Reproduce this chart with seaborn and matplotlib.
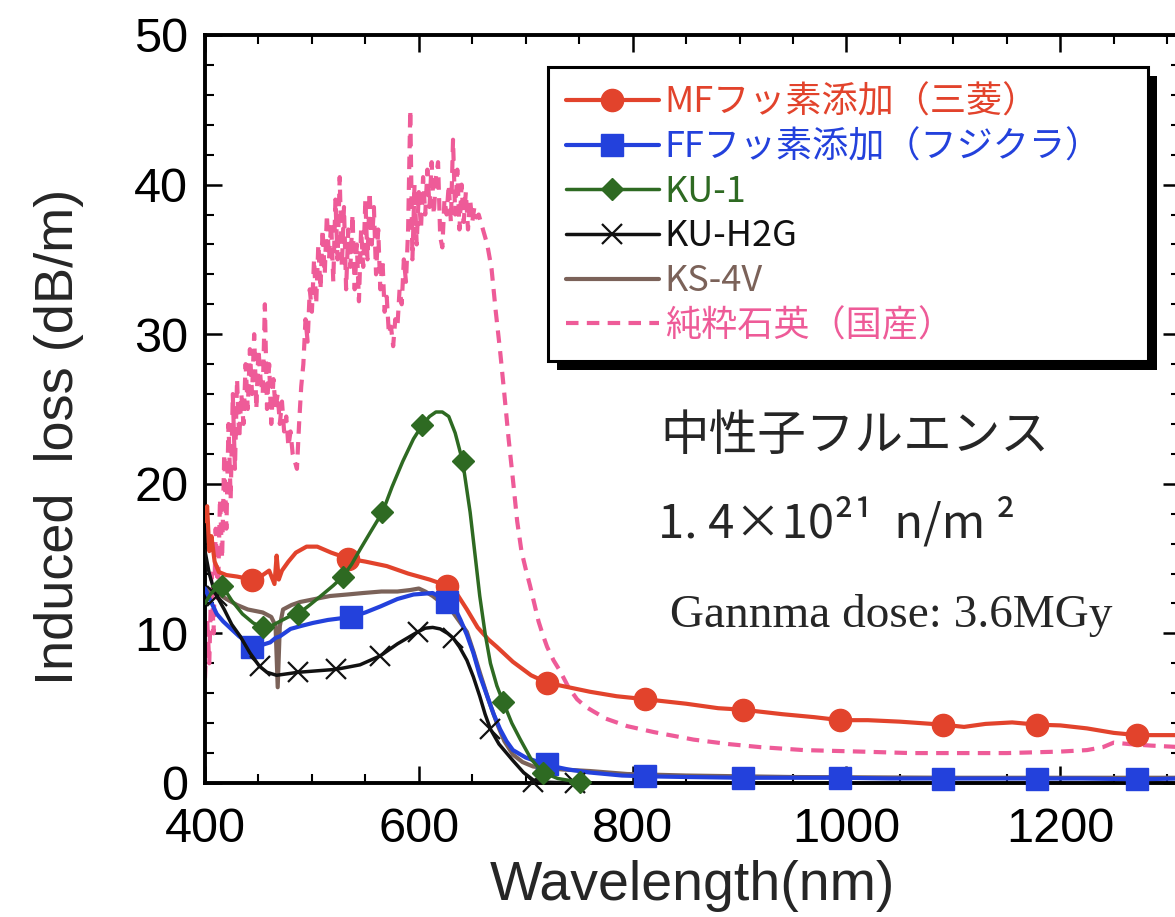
import numpy as np
import pandas as pd
import matplotlib
matplotlib.use('Agg')
import matplotlib.pyplot as plt
from matplotlib.lines import Line2D
from matplotlib.patches import Rectangle
from matplotlib.ticker import MultipleLocator
import seaborn as sns

# ---- data (wavelength nm, induced loss dB/m) ----
mf_x = [400, 402, 404, 406, 409, 413, 420, 430, 444, 452, 460, 465, 467, 469, 472, 478, 485, 495,
        505, 518, 534, 550, 570, 590, 610, 626, 636, 645, 655, 665, 673, 688, 705, 720, 740, 760,
        785, 812, 850, 880, 903, 940, 970, 994, 1020, 1050, 1090, 1110, 1130, 1155, 1178, 1200,
        1225, 1250, 1272, 1312]
mf_y = [17.5, 18.5, 15.5, 16.5, 14.8, 14.1, 13.9, 13.8, 13.6, 13.8, 14.2, 13.3, 15.2, 13.6, 14.2,
        14.8, 15.4, 15.8, 15.8, 15.4, 15.0, 14.8, 14.5, 14.0, 13.6, 13.2, 12.6, 11.6, 10.4, 9.6,
        9.1, 8.1, 7.2, 6.7, 6.4, 6.1, 5.8, 5.6, 5.3, 5.0, 4.9, 4.6, 4.4, 4.2, 4.2, 4.1, 3.9, 3.75,
        3.95, 4.05, 3.9, 3.85, 3.65, 3.35, 3.2, 3.2]
mf_mx = [444, 534, 626, 720, 812, 903, 994, 1090, 1178, 1272]
mf_my = [13.6, 15.0, 13.2, 6.7, 5.6, 4.9, 4.2, 3.9, 3.9, 3.2]

ff_x = [400, 405, 411, 417, 423, 432, 444, 452, 461, 466, 470, 480, 490, 501, 515, 537, 550, 564,
        580, 595, 613, 626, 633, 639, 645, 651, 657, 664, 670, 676, 682, 688, 700, 720, 740, 760,
        790, 812, 850, 903, 950, 994, 1040, 1090, 1130, 1178, 1220, 1272, 1312]
ff_y = [13.0, 12.2, 11.3, 10.8, 10.4, 9.8, 9.2, 9.2, 9.4, 9.7, 9.8, 10.3, 10.5, 10.7, 10.9, 11.1,
        11.4, 11.8, 12.3, 12.6, 12.7, 12.2, 11.8, 10.9, 9.9, 8.7, 7.2, 5.8, 4.6, 3.6, 2.8, 2.2,
        1.7, 1.2, 0.9, 0.7, 0.5, 0.45, 0.4, 0.35, 0.35, 0.35, 0.3, 0.3, 0.3, 0.3, 0.3, 0.25, 0.3]
ff_mx = [444, 537, 626, 720, 812, 903, 994, 1090, 1178, 1272]
ff_my = [9.1, 11.1, 12.1, 1.3, 0.45, 0.35, 0.35, 0.3, 0.3, 0.25]

ku1_x = [400, 405, 410, 416, 425, 435, 445, 454, 462, 470, 478, 487, 498, 510, 520, 529, 537, 545,
         555, 566, 575, 585, 595, 603, 610, 616, 622, 628, 634, 641, 648, 653, 657, 662, 667, 673,
         679, 687, 695, 705, 716, 730, 751, 760]
ku1_y = [12.0, 12.6, 13.0, 13.2, 12.2, 11.3, 10.7, 10.4, 10.5, 10.8, 11.1, 11.3, 11.9, 12.6, 13.2,
         13.8, 14.6, 15.6, 16.8, 18.1, 19.8, 21.5, 23.0, 23.9, 24.5, 24.8, 24.8, 24.5, 23.4, 21.5,
         18.1, 15.0, 12.5, 10.0, 8.0, 6.5, 5.4, 4.0, 2.9, 1.6, 0.7, 0.3, 0.05, 0.0]
ku1_mx = [416, 454, 487, 529, 566, 603, 641, 679, 716, 751]
ku1_my = [13.2, 10.4, 11.3, 13.8, 18.1, 23.9, 21.5, 5.4, 0.7, 0.05]

h2g_x = [400, 404, 408, 411, 418, 425, 433, 442, 451, 458, 467, 477, 487, 505, 523, 545, 564, 580,
         599, 606, 613, 620, 627, 632, 638, 645, 651, 657, 662, 667, 675, 688, 698, 707, 720, 746,
         760]
h2g_y = [15.5, 14.0, 13.0, 12.5, 11.6, 10.6, 9.8, 8.7, 7.8, 7.4, 7.2, 7.3, 7.4, 7.5, 7.6, 7.9, 8.5,
         9.3, 10.1, 10.35, 10.4, 10.3, 10.0, 9.7, 9.1, 8.2, 7.1, 5.8, 4.6, 3.6, 2.6, 1.5, 0.7, 0.2,
         0.05, 0.0, 0.0]
h2g_mx = [411, 451, 487, 523, 564, 599, 632, 667, 707, 746]
h2g_my = [12.5, 7.8, 7.4, 7.6, 8.5, 10.1, 9.7, 3.6, 0.1, 0.0]

ks4v_x = [400, 405, 411, 420, 430, 440, 454, 462, 466, 468, 470, 473, 481, 489, 503, 517, 533, 548,
          565, 580, 592, 600, 606, 613, 622, 632, 640, 645, 651, 657, 665, 673, 680, 688, 697, 707,
          720, 735, 760, 795, 850, 950, 1100, 1312]
ks4v_y = [13.0, 12.8, 12.7, 12.3, 11.9, 11.6, 11.4, 11.1, 10.5, 6.4, 10.5, 11.6, 11.9, 12.1, 12.3,
          12.5, 12.6, 12.7, 12.8, 12.8, 12.9, 13.0, 12.8, 12.5, 12.0, 11.4, 10.6, 10.1, 8.8, 7.4,
          5.6, 4.0, 2.8, 1.9, 1.4, 1.1, 1.0, 0.9, 0.8, 0.6, 0.5, 0.4, 0.35, 0.35]

silica_x = list(range(400, 662, 2)) + [664, 668, 672, 676, 680, 684, 688, 692, 696, 700, 704, 708,
                                       712, 716, 720, 726, 732, 740, 748, 756, 763, 775, 795, 820,
                                       857, 890, 919, 960, 1013, 1060, 1100, 1150, 1200, 1225, 1240,
                                       1250, 1265, 1285, 1312]
silica_y = [7, 11, 8, 14, 10, 17, 12, 19, 15, 22, 17, 24, 19, 26, 21, 27, 23, 26, 24, 28,
            25, 29, 26, 30, 25, 29, 27, 26, 32, 25, 28, 24, 27, 25, 26, 24, 25.5, 23.5, 24.5, 22.5,
            23.5, 22, 21.5, 21, 24, 26.5, 28, 31, 29.5, 33, 31.5, 35, 32, 36, 33, 37, 34, 38, 35, 37.5,
            33.5, 39, 35, 40.5, 34.5, 38.5, 33, 37, 34.5, 38, 33, 36, 32.2, 37, 34.5, 39, 35, 39.5, 36, 38.5,
            34, 37, 33, 35, 31.5, 32.5, 30, 30.5, 29.2, 31, 30.5, 33, 32, 35, 33.5, 37, 45, 35, 40, 36,
            39.5, 37, 40.5, 38, 41, 38.5, 41.5, 38, 40.5, 41.5, 36.5, 35.8, 39, 38, 40, 37.5,
            43, 38, 41, 37, 40, 37.5, 39.5, 37, 39, 37.5, 38.5, 37.8, 38, 37.5, 37,
            36, 34.4, 31.5, 28.9, 26, 23, 20.3, 17.5, 15.5, 14.3, 13.2, 12, 10.8, 9.9, 9.1, 8.2, 7.5,
            6.4, 5.6, 5.1, 4.8, 4.3, 3.8, 3.4, 2.9, 2.6, 2.4, 2.2, 2.1, 2.0, 2.0, 2.0, 2.1, 2.2, 2.4,
            2.7, 2.6, 2.5, 2.4]

labels = ['MFフッ素添加（三菱）', 'FFフッ素添加（フジクラ）', 'KU-1', 'KU-H2G', 'KS-4V', '純粋石英（国産）']
colors = ['#e2432c', '#2341dc', '#2e6a22', '#111111', '#7b6259', '#ee5b98']

sns.set_theme(style='ticks')
plt.rcParams['font.family'] = ['Liberation Sans', 'Noto Sans CJK JP']

fig = plt.figure(figsize=(11.75, 9.17), dpi=100)
ax = fig.add_axes([205 / 1175, 134 / 917, 975 / 1175, 748 / 917])

# lines
sns.lineplot(x=silica_x, y=silica_y, ax=ax, color=colors[5], lw=3, linestyle=(0, (3, 2)),
             sort=False, estimator=None, zorder=2)
sns.lineplot(x=mf_x, y=mf_y, ax=ax, color=colors[0], lw=3, sort=False, estimator=None, zorder=3)
sns.lineplot(x=ks4v_x, y=ks4v_y, ax=ax, color=colors[4], lw=3, sort=False, estimator=None, zorder=3.5)
sns.lineplot(x=ff_x, y=ff_y, ax=ax, color=colors[1], lw=3, sort=False, estimator=None, zorder=4)
sns.lineplot(x=h2g_x, y=h2g_y, ax=ax, color=colors[3], lw=2.5, sort=False, estimator=None, zorder=4.2)
sns.lineplot(x=ku1_x, y=ku1_y, ax=ax, color=colors[2], lw=2.5, sort=False, estimator=None, zorder=4.5)

# markers
ax.plot(mf_mx, mf_my, 'o', color=colors[0], ms=16, zorder=3.1, clip_on=False)
ax.plot(ff_mx, ff_my, 's', color=colors[1], ms=16, zorder=4.1, clip_on=False)
ax.plot(h2g_mx, h2g_my, 'x', color=colors[3], ms=14, mew=1.6, zorder=4.3, clip_on=False)
ax.plot(ku1_mx, ku1_my, 'D', color=colors[2], ms=11, zorder=4.6, clip_on=False)

ax.set_xlim(400, 1312)
ax.set_ylim(0, 50)
ax.xaxis.set_major_locator(MultipleLocator(200))
ax.xaxis.set_minor_locator(MultipleLocator(50))
ax.yaxis.set_major_locator(MultipleLocator(10))
ax.yaxis.set_minor_locator(MultipleLocator(2))
ax.tick_params(which='both', direction='in', top=True, right=True, colors='black')
ax.tick_params(which='major', length=12, width=1.8, labelsize=35)
ax.tick_params(axis='x', which='major', pad=17)
ax.tick_params(axis='y', which='major', pad=12)
ax.tick_params(which='minor', length=6.5, width=1.5)
for s in ax.spines.values():
    s.set_linewidth(2.8)
    s.set_color('black')

ax.set_xlabel('Wavelength(nm)', fontsize=40)
ax.set_ylabel('Induced  loss (dB/m)', fontsize=39)
ax.xaxis.set_label_coords(0.5, -0.103)
ax.yaxis.set_label_coords(-0.124, 0.4625)

# legend
handles = [
    Line2D([], [], color=colors[0], lw=3, marker='o', ms=16),
    Line2D([], [], color=colors[1], lw=3, marker='s', ms=16),
    Line2D([], [], color=colors[2], lw=2.5, marker='D', ms=11),
    Line2D([], [], color=colors[3], lw=2.5, marker='x', ms=14, mew=1.6),
    Line2D([], [], color=colors[4], lw=3),
    Line2D([], [], color=colors[5], lw=3, linestyle=(0, (3, 2))),
]
leg = ax.legend(handles, labels, loc='upper left', bbox_to_anchor=(0.352, 0.957, 0.615, 0),
                mode='expand', borderaxespad=0,
                prop={'family': ['Noto Sans CJK JP'], 'size': 26},
                frameon=True, fancybox=False, edgecolor='black', framealpha=1,
                handlelength=2.6, handletextpad=0.15, labelspacing=0.24, borderpad=0.48)
leg.get_frame().set_linewidth(2.2)
leg.set_zorder(10)
for t, c in zip(leg.get_texts(), colors):
    t.set_color(c)

fig.canvas.draw()
bb = leg.get_window_extent(fig.canvas.get_renderer())
inv = ax.transAxes.inverted()
(x0, y0), (x1, y1) = inv.transform([[bb.x0 + 9, bb.y0 - 9], [bb.x1 + 9, bb.y1 - 9]])
ax.add_patch(Rectangle((x0, y0), x1 - x0, y1 - y0, transform=ax.transAxes, facecolor='black',
                       edgecolor='none', zorder=9, clip_on=False))

# annotations
fig.text(660 / 1175, 1 - 436 / 917, '中性子フルエンス', fontsize=35, va='center',
         family=['Noto Sans CJK JP'])
fig.text(658 / 1175, 1 - 537 / 917, '1. 4×10²¹  n/m ²', fontsize=34, va='baseline',
         family=['Noto Sans CJK JP'])
fig.text(670 / 1175, 1 - 627 / 917, 'Gannma dose: 3.6MGy', fontsize=34, va='baseline',
         family=['Liberation Serif'])

fig.savefig('out.png', dpi=100)
